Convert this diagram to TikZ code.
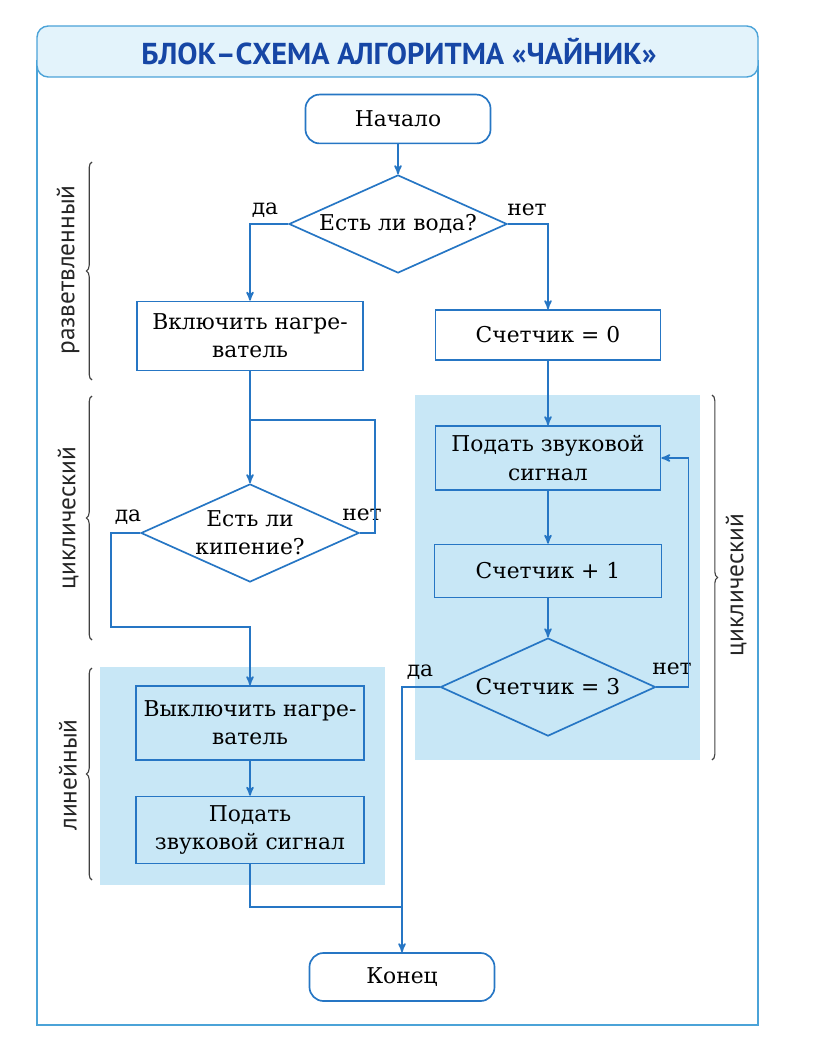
\documentclass[tikz,border=0pt]{standalone}
\usepackage{fontspec}
\setmainfont{DejaVu Serif}
\newfontfamily\titlefont{PT Sans}
\newfontfamily\sidefont{PT Sans}
\usepackage{xcolor}
\usepackage{tikz}
\usetikzlibrary{shapes, arrows, positioning, calc, decorations.pathreplacing}
\definecolor{flowblue}{RGB}{38,118,196}
\definecolor{frameblue}{RGB}{75,163,216}
\definecolor{bandfill}{RGB}{227,243,251}
\definecolor{panelfill}{RGB}{200,231,246}
\definecolor{titleblue}{RGB}{22,70,165}
\tikzset{
    block/.style={
        rectangle,
        draw=flowblue,
        line width=1.2pt,
        align=center,
        inner sep=0pt,
    },
    terminal/.style={
        block,
        rounded corners=10pt,
        minimum width=4.625cm,
        minimum height=1.22cm,
    },
    decision/.style={
        diamond,
        aspect=2.22,
        draw=flowblue,
        line width=1.2pt,
        align=center,
        inner sep=0pt,
        minimum width=5.45cm,
        minimum height=2.45cm,
    },
    flow/.style={
        draw=flowblue,
        line width=1.2pt,
    },
    answer/.style={
        inner sep=1pt,
    },
    brace/.style={
        decorate,
        decoration={brace, amplitude=4pt},
        draw=black!75,
        line width=0.8pt,
    },
    side/.style={
        rotate=90,
        text=black!85,
        font=\sidefont\fontsize{18}{21}\selectfont,
    },
}

\begin{document}
\begin{tikzpicture}[x=0.025cm, y=-0.025cm, >=stealth', font=\fontsize{15.5}{20}\selectfont]
      \useasboundingbox (0,0) rectangle (816,1037);

      % shaded parts
      \fill[panelfill] (100,667) rectangle (385,885);
      \fill[panelfill] (415,395) rectangle (700,760);

      % frame and title
      \draw[frameblue, line width=1pt] (37,60) -- (37,1025) -- (758,1025) -- (758,60);
      \draw[frameblue, line width=1pt, fill=bandfill, rounded corners=8pt] (37,26) rectangle (758,77);
      \node[text=titleblue, font=\titlefont\bfseries\fontsize{21.5}{24}\selectfont] (title) at (399,52) {БЛОК–СХЕМА АЛГОРИТМА «ЧАЙНИК»};

      \node [terminal] (start) at (398,119) {Начало};
      \node [decision] (q1) at (398,224) {Есть ли вода?};
      \node [block, minimum width=5.65cm, minimum height=1.725cm] (heat) at (250,336) {Включить нагре-\\ватель};
      \node [block, minimum width=5.625cm, minimum height=1.25cm] (cnt0) at (548,335) {Счетчик = 0};

      \node [decision] (q2) at (250,533) {Есть ли\\кипение?};
      \node [block, minimum width=5.7cm, minimum height=1.85cm] (off) at (250,723) {Выключить нагре-\\ватель};
      \node [block, minimum width=5.7cm, minimum height=1.675cm] (beep1) [node distance=2.675cm, below of=off] {Подать\\звуковой сигнал};

      \node [block, minimum width=5.625cm, minimum height=1.6cm] (beep2) at (548,458) {Подать звуковой\\сигнал};
      \node [block, minimum width=5.675cm, minimum height=1.325cm] (inc) [node distance=2.825cm, below of=beep2] {Счетчик + 1};
      \node [decision, minimum width=5.375cm] (q3) [node distance=2.9cm, below of=inc] {Счетчик = 3};

      \node [terminal, minimum height=1.2cm] (end) at (402,977) {Конец};

      \node [answer] (yes1) at (265,210) {да};
      \node [answer] (no1) at (527,210) {нет};
      \node [answer] (yes2) at (128,517) {да};
      \node [answer] (no2) at (362,515) {нет};
      \node [answer] (yes3) at (420,672) {да};
      \node [answer] (no3) at (672,669) {нет};

      \coordinate (back) at (250,420);
      \coordinate (down2) at (250,627);
      \coordinate (merge) at (402,907);

      \draw[flow, ->] (start) -- (q1);
      \draw[flow, ->] (q1.west) -| (heat);
      \draw[flow, ->] (q1.east) -| (cnt0);
      \draw[flow, ->] (heat) -- (q2);
      \draw[flow] (q2.east) -- ++(15,0) |- (back);
      \draw[flow, ->] (q2.west) -- ++(-29,0) |- (down2) -- (off);
      \draw[flow, ->] (off) -- (beep1);
      \draw[flow] (beep1) |- (merge);
      \draw[flow, ->] (cnt0) -- (beep2);
      \draw[flow, ->] (beep2) -- (inc);
      \draw[flow, ->] (inc) -- (q3);
      \draw[flow, ->] (q3.east) -- ++(32,0) |- (beep2.east);
      \draw[flow, ->] (q3.west) -| (end);

      % kinds of algorithm
      \draw[brace] (92,380) -- (92,162);
      \draw[brace] (92,640) -- (92,396);
      \draw[brace] (92,880) -- (92,668);
      \draw[brace] (712,395) -- (712,760);
      \node[side] (kind1) at (68,270) {разветвленный};
      \node[side] (kind2) at (68,518) {циклический};
      \node[side] (kind3) at (68,775) {линейный};
      \node[side] (kind4) at (736,585) {циклический};
    \end{tikzpicture}
\end{document}
